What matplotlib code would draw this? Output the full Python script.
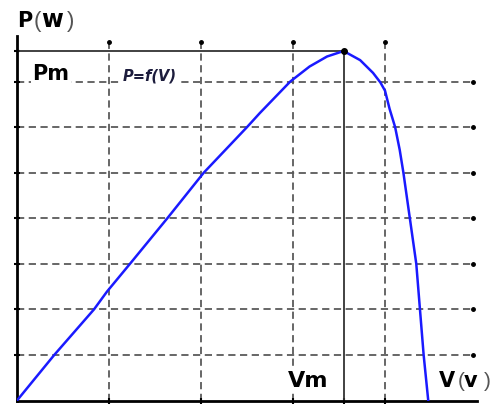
import matplotlib.pyplot as plt

# P-V curve (V and P in grid units)
V = [0.0, 0.405, 0.837, 0.978, 1.228, 1.634, 2.03, 2.50, 2.64, 2.97, 3.18,
     3.37, 3.55, 3.73, 3.87, 3.95, 4.0, 4.05, 4.11, 4.16, 4.2, 4.27, 4.34,
     4.38, 4.42, 4.47]
P = [0.0, 1.0, 2.0, 2.39, 3.0, 4.0, 5.0, 6.0, 6.31, 7.0, 7.33,
     7.55, 7.67, 7.47, 7.19, 6.98, 6.8, 6.4, 6.0, 5.5, 5.0, 4.0, 3.0,
     2.0, 1.0, 0.0]
VM, PM = 3.55, 7.67
XGRID = [1, 2, 3, 4]
YGRID = [1, 2, 3, 4, 5, 6, 7]

W, H = 499, 407
fig = plt.figure(figsize=(W / 100, H / 100), dpi=100)
ax = fig.add_axes([17 / W, 6.5 / H, 460 / W, 364.5 / H])
ax.set_xlim(0, 5)
ax.set_ylim(0, 8)
ax.patch.set_alpha(0)

gcol = "#5a5a5a"
dash = (0, (4, 2.5))
for x in XGRID:
    ax.plot([x, x], [0, 7.87], ls=dash, color=gcol, lw=1.3, zorder=1)
    ax.plot(x, 7.87, marker="o", ms=2.5, color="black", zorder=1)
for y in YGRID:
    ax.plot([0, 4.96], [y, y], ls=dash, color=gcol, lw=1.3, zorder=1)
    ax.plot(4.96, y, marker="o", ms=2.5, color="black", zorder=1)

# Pm / Vm reference lines
ax.plot([0, VM], [PM, PM], color="#333333", lw=1.3, zorder=2)
ax.plot([VM, VM], [0, PM], color="#333333", lw=1.3, zorder=2)

ax.plot(V, P, color="#1a1aff", lw=1.8, zorder=3, solid_joinstyle="round")
ax.plot(VM, PM, marker="o", ms=4, color="black", zorder=4)

for s in ["top", "right"]:
    ax.spines[s].set_visible(False)
for s in ["left", "bottom"]:
    ax.spines[s].set_linewidth(2)
    ax.spines[s].set_color("black")
ax.set_xticks(XGRID + [VM])
ax.set_yticks(YGRID + [PM])
ax.tick_params(direction="inout", length=4, width=1.5, labelbottom=False, labelleft=False)


def label(pieces, y_px):
    # pieces: (text, left x in pixels, size, weight, colour)
    for txt, x_px, size, wt, col in pieces:
        fam = "DejaVu Sans" if wt == "bold" else "Liberation Sans"
        fig.text(x_px / W, 1 - y_px / H, txt, family=fam, fontsize=size,
                 weight=wt, color=col, ha="left", va="baseline", zorder=6)


label([("P", 17, 15, "bold", "black"), ("(", 34, 16, "light", "#555555"),
       ("w", 41, 17, "bold", "black"), (")", 67, 16, "light", "#555555")], 27)
label([("V", 439, 15, "bold", "black"), ("(", 458, 15, "light", "#555555"),
       ("v", 464, 15, "bold", "black"), (")", 484, 15, "light", "#555555")], 387)

box = dict(facecolor="white", edgecolor="none", pad=1)
ax.text(0.165, 7.03, "Pm", family="DejaVu Sans", fontsize=15, weight="bold",
        va="baseline", ha="left", bbox=box, zorder=5)
ax.text(1.15, 7.02, "P=f(V)", family="DejaVu Sans", fontsize=10.5, style="italic",
        weight="bold", color="#1c1c3c", va="baseline", ha="left", bbox=box, zorder=5)
ax.text(2.94, 0.3, "Vm", family="DejaVu Sans", fontsize=16, weight="bold",
        va="baseline", ha="left", bbox=box, zorder=5)

fig.savefig("out.png", dpi=100)
